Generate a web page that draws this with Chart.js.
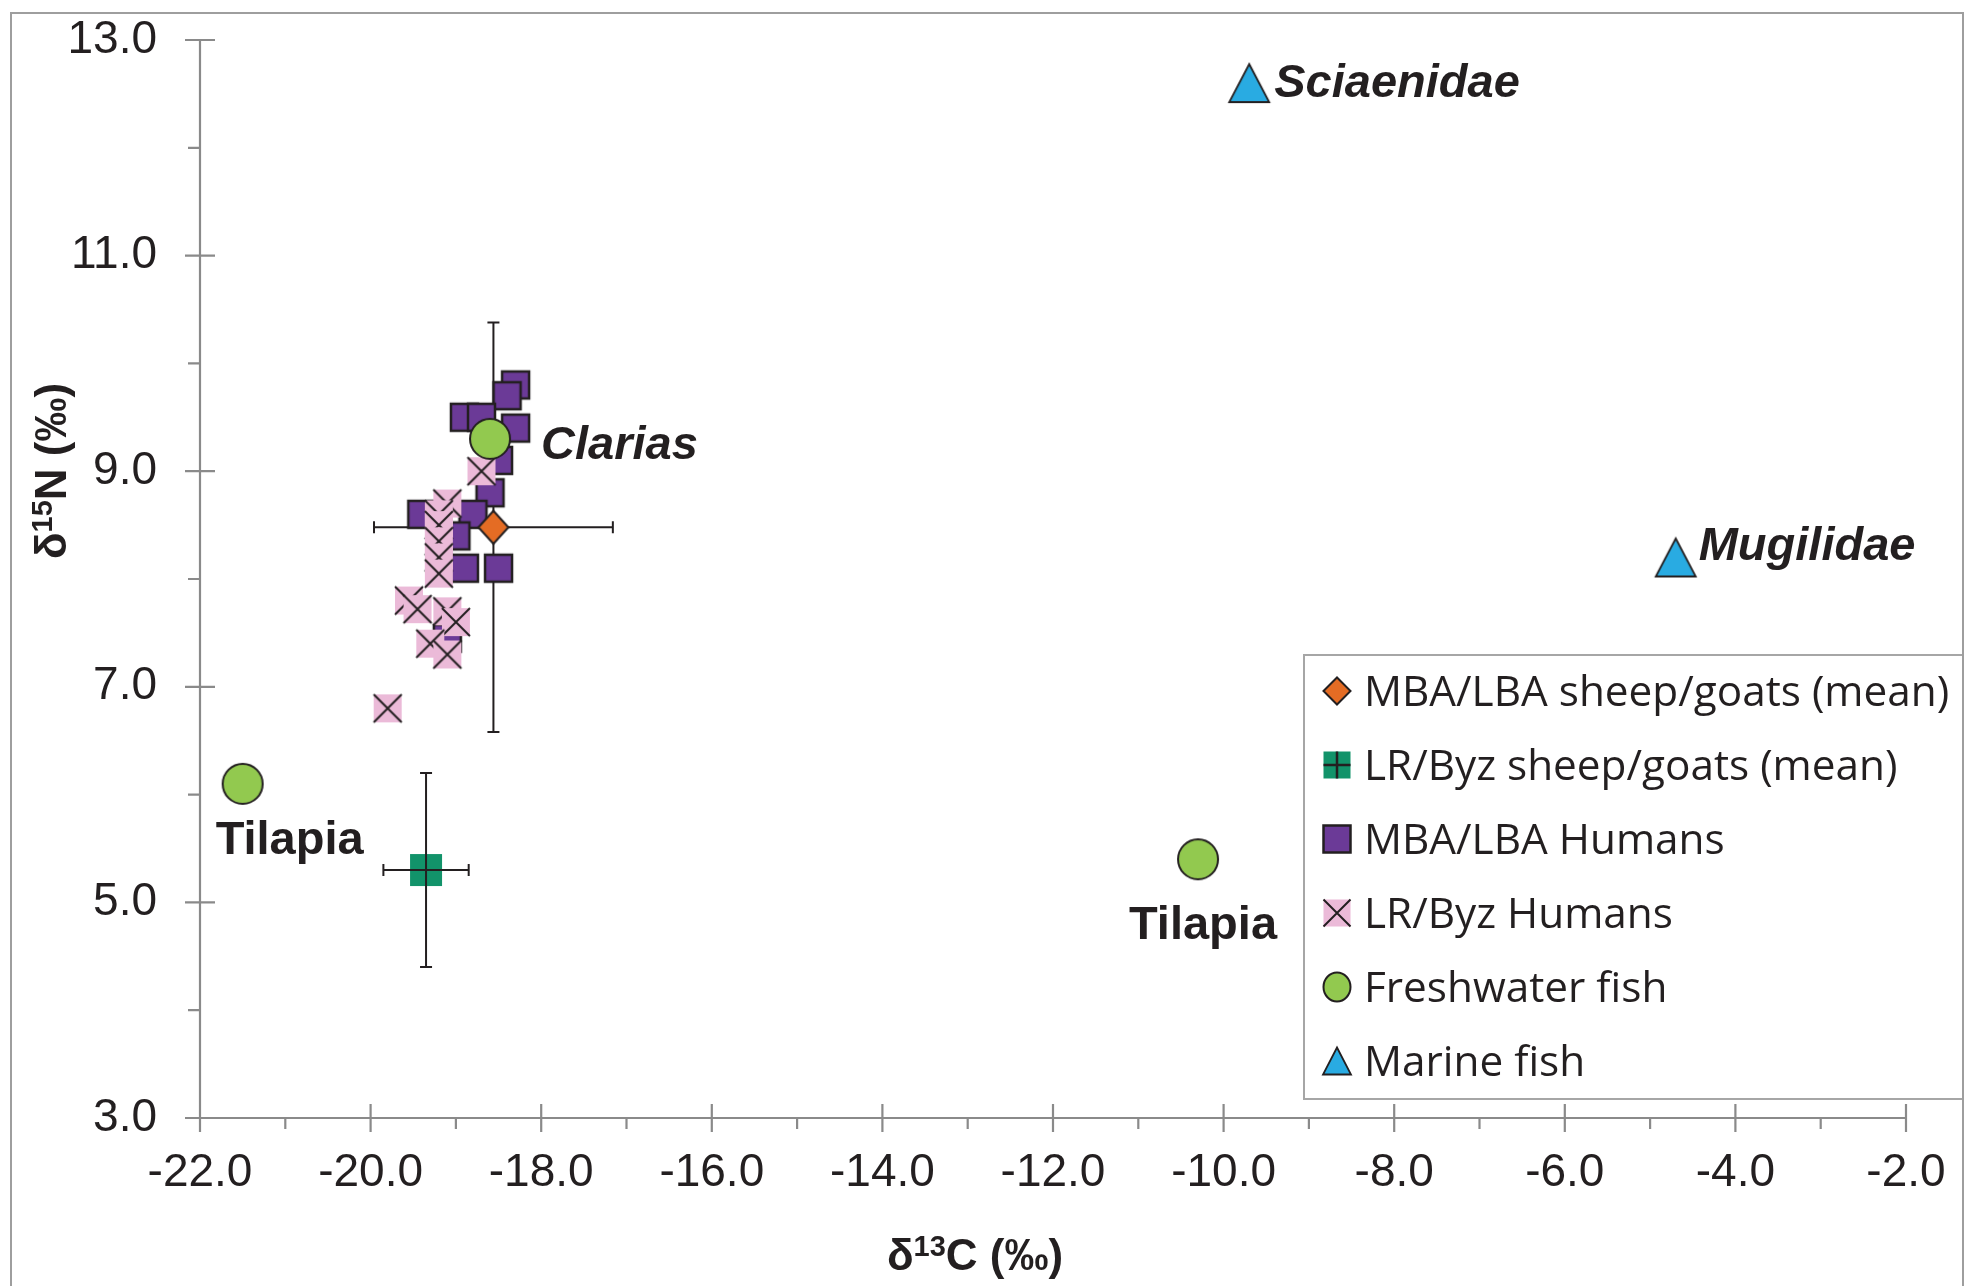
<!DOCTYPE html>
<html>
<head>
<meta charset="utf-8">
<script src="https://cdn.jsdelivr.net/npm/chart.js@4.4.0/dist/chart.umd.min.js"></script>
<style>
  html, body { margin: 0; padding: 0; background: #ffffff; }
  canvas { display: block; }
</style>
</head>
<body>
<canvas id="chart" width="1966" height="1286"></canvas>
<script>
// ================= DATA =================
const seriesNames = [
  'MBA/LBA sheep/goats (mean)',
  'LR/Byz sheep/goats (mean)',
  'MBA/LBA Humans',
  'LR/Byz Humans',
  'Freshwater fish',
  'Marine fish'
];

const xMin = -22, xMax = -2, xStep = 2;
const yMin = 3, yMax = 13, yStep = 2;
const xTitleParts = [['δ', false], ['13', true], ['C (‰)', false]];
const yTitleParts = [['δ', false], ['15', true], ['N (‰)', false]];

const sheepMbaX = [-18.56];
const sheepMbaY = [8.48];
const sheepMbaXErr = [1.4];
const sheepMbaYErr = [1.9];

const sheepLrX = [-19.35];
const sheepLrY = [5.3];
const sheepLrXErr = [0.5];
const sheepLrYErr = [0.9];

const humansMbaX = [-18.3, -18.4, -18.9, -18.7, -18.3, -18.5, -18.6, -19.4, -18.8, -19.0, -18.9, -18.5, -19.1];
const humansMbaY = [9.8, 9.7, 9.5, 9.5, 9.4, 9.1, 8.8, 8.6, 8.6, 8.4, 8.1, 8.1, 7.45];

const humansLrX = [-18.7, -19.1, -19.2, -19.2, -19.2, -19.2, -19.2, -19.55, -19.45, -19.1, -19.0, -19.3, -19.1, -19.8];
const humansLrY = [9.0, 8.7, 8.6, 8.5, 8.35, 8.2, 8.05, 7.8, 7.72, 7.7, 7.6, 7.4, 7.3, 6.8];

const freshX = [-18.6, -21.5, -10.3];
const freshY = [9.3, 6.1, 5.4];
const freshLabels = ['Clarias', 'Tilapia', 'Tilapia'];

const marineX = [-9.7, -4.7];
const marineY = [12.6, 8.2];
const marineLabels = ['Sciaenidae', 'Mugilidae'];

// ================= STYLES =================
const INK = '#231F20';
const AXIS = '#8A8A8A';
const COLORS = {
  orange: '#E46C24', teal: '#12936A', purple: '#6B3A97',
  pink: '#EBBAD8', green: '#92C94F', blue: '#29ABE2'
};

function drawMarker(ctx, type, cx, cy, w, h) {
  ctx.save();
  ctx.lineJoin = 'miter';
  ctx.strokeStyle = INK;
  if (type === 'diamond') {
    ctx.beginPath();
    ctx.moveTo(cx - w / 2, cy); ctx.lineTo(cx, cy - h / 2);
    ctx.lineTo(cx + w / 2, cy); ctx.lineTo(cx, cy + h / 2); ctx.closePath();
    ctx.fillStyle = COLORS.orange; ctx.fill();
    ctx.lineWidth = 2; ctx.stroke();
  } else if (type === 'teal' || type === 'tealPlus') {
    ctx.fillStyle = COLORS.teal;
    ctx.fillRect(cx - w / 2, cy - h / 2, w, h);
    if (type === 'tealPlus') {
      ctx.lineWidth = 2.5;
      ctx.beginPath();
      ctx.moveTo(cx - w / 2, cy); ctx.lineTo(cx + w / 2, cy);
      ctx.moveTo(cx, cy - h / 2); ctx.lineTo(cx, cy + h / 2);
      ctx.stroke();
    }
  } else if (type === 'purple') {
    ctx.fillStyle = COLORS.purple;
    ctx.fillRect(cx - w / 2, cy - h / 2, w, h);
    ctx.lineWidth = 2.5;
    ctx.strokeRect(cx - w / 2, cy - h / 2, w, h);
  } else if (type === 'pinkX') {
    ctx.fillStyle = COLORS.pink;
    ctx.fillRect(cx - w / 2, cy - h / 2, w, h);
    ctx.lineWidth = 2;
    ctx.beginPath();
    ctx.moveTo(cx - w / 2, cy - h / 2); ctx.lineTo(cx + w / 2, cy + h / 2);
    ctx.moveTo(cx + w / 2, cy - h / 2); ctx.lineTo(cx - w / 2, cy + h / 2);
    ctx.stroke();
  } else if (type === 'circle') {
    ctx.beginPath();
    ctx.ellipse(cx, cy, w / 2, h / 2, 0, 0, Math.PI * 2);
    ctx.fillStyle = COLORS.green; ctx.fill();
    ctx.lineWidth = 2; ctx.stroke();
  } else if (type === 'triangle') {
    ctx.beginPath();
    ctx.moveTo(cx, cy - h / 2); ctx.lineTo(cx + w / 2, cy + h / 2);
    ctx.lineTo(cx - w / 2, cy + h / 2); ctx.closePath();
    ctx.fillStyle = COLORS.blue; ctx.fill();
    ctx.lineWidth = 1.8; ctx.stroke();
  }
  ctx.restore();
}

function markerCanvas(type, w, h) {
  const pad = 3;
  const c = document.createElement('canvas');
  c.width = Math.ceil(w + 2 * pad);
  c.height = Math.ceil(h + 2 * pad);
  drawMarker(c.getContext('2d'), type, c.width / 2, c.height / 2, w, h);
  return c;
}

const pts = (xs, ys) => xs.map((x, i) => ({ x: x, y: ys[i] }));

// order: lower number drawn on top
const datasets = [
  { label: seriesNames[0], data: pts(sheepMbaX, sheepMbaY), pointStyle: markerCanvas('diamond', 30, 33), order: 4 },
  { label: seriesNames[1], data: pts(sheepLrX, sheepLrY), pointStyle: markerCanvas('teal', 32, 32), order: 6 },
  { label: seriesNames[2], data: pts(humansMbaX, humansMbaY), pointStyle: markerCanvas('purple', 27, 27), order: 5 },
  { label: seriesNames[3], data: pts(humansLrX, humansLrY), pointStyle: markerCanvas('pinkX', 28, 28), order: 3 },
  { label: seriesNames[4], data: pts(freshX, freshY), pointStyle: markerCanvas('circle', 40, 40), order: 2 },
  { label: seriesNames[5], data: pts(marineX, marineY), pointStyle: markerCanvas('triangle', 40, 38), order: 1 }
].map(d => Object.assign(d, { pointRadius: 20, showLine: false }));

const legendTypes = ['diamond', 'tealPlus', 'purple', 'pinkX', 'circle', 'triangle'];
const legendSizes = [[27, 27], [27, 27], [27, 27], [27, 27], [27, 29], [28, 27]];

// label placement relative to the point (pixels)
const freshLabelStyle = [
  { dx: 51, dy: 3, align: 'left', italic: true },
  { dx: 47, dy: 53, align: 'center', italic: false },
  { dx: 5, dy: 63, align: 'center', italic: false }
];
const marineLabelStyle = [
  { dx: 25, dy: -3, align: 'left', italic: true },
  { dx: 23, dy: -14, align: 'left', italic: true }
];

function drawErrorBars(chart, xs, ys, xe, ye) {
  const ctx = chart.ctx, sx = chart.scales.x, sy = chart.scales.y;
  const cap = 6;
  ctx.save();
  ctx.strokeStyle = INK; ctx.lineWidth = 2;
  xs.forEach((xv, i) => {
    const px = sx.getPixelForValue(xv), py = sy.getPixelForValue(ys[i]);
    const x1 = sx.getPixelForValue(xv - xe[i]), x2 = sx.getPixelForValue(xv + xe[i]);
    const y1 = sy.getPixelForValue(ys[i] + ye[i]), y2 = sy.getPixelForValue(ys[i] - ye[i]);
    ctx.beginPath();
    ctx.moveTo(x1, py); ctx.lineTo(x2, py);
    ctx.moveTo(x1, py - cap); ctx.lineTo(x1, py + cap);
    ctx.moveTo(x2, py - cap); ctx.lineTo(x2, py + cap);
    ctx.moveTo(px, y1); ctx.lineTo(px, y2);
    ctx.moveTo(px - cap, y1); ctx.lineTo(px + cap, y1);
    ctx.moveTo(px - cap, y2); ctx.lineTo(px + cap, y2);
    ctx.stroke();
  });
  ctx.restore();
}

function drawRichText(ctx, parts, cx, cy, rotate) {
  const base = 'bold 44px "Liberation Sans", Arial, sans-serif';
  const sup = 'bold 29px "Liberation Sans", Arial, sans-serif';
  let total = 0;
  const widths = parts.map(p => { ctx.font = p[1] ? sup : base; const w = ctx.measureText(p[0]).width; total += w; return w; });
  ctx.save();
  ctx.translate(cx, cy);
  if (rotate) ctx.rotate(-Math.PI / 2);
  ctx.fillStyle = INK;
  ctx.textBaseline = 'alphabetic';
  ctx.textAlign = 'left';
  let x = -total / 2;
  const baseline = 0.716 * 44 / 2;
  parts.forEach((p, i) => {
    ctx.font = p[1] ? sup : base;
    ctx.fillText(p[0], x, p[1] ? baseline - 14 : baseline);
    x += widths[i];
  });
  ctx.restore();
}

const decor = {
  id: 'decor',
  beforeDraw(chart) {
    const ctx = chart.ctx;
    ctx.save(); ctx.fillStyle = '#ffffff'; ctx.fillRect(0, 0, chart.width, chart.height); ctx.restore();
  },
  beforeDatasetsDraw(chart) {
    const ctx = chart.ctx, sx = chart.scales.x, sy = chart.scales.y;
    const x0 = sx.getPixelForValue(xMin), y0 = sy.getPixelForValue(yMin);
    ctx.save();
    ctx.strokeStyle = AXIS; ctx.lineWidth = 2.2; ctx.lineCap = 'butt';
    ctx.beginPath();
    ctx.moveTo(x0, sy.getPixelForValue(yMax)); ctx.lineTo(x0, y0);
    ctx.moveTo(x0 - 12, y0); ctx.lineTo(sx.getPixelForValue(xMax), y0);
    for (let v = xMin; v <= xMax + 1e-9; v += xStep / 2) {
      const p = sx.getPixelForValue(v);
      const major = Math.abs(((v - xMin) / xStep) - Math.round((v - xMin) / xStep)) < 1e-6;
      if (major) { ctx.moveTo(p, y0 - 14); ctx.lineTo(p, y0 + 14); }
      else { ctx.moveTo(p, y0); ctx.lineTo(p, y0 + 11); }
    }
    for (let v = yMin; v <= yMax + 1e-9; v += yStep / 2) {
      const p = sy.getPixelForValue(v);
      const major = Math.abs(((v - yMin) / yStep) - Math.round((v - yMin) / yStep)) < 1e-6;
      if (major) { ctx.moveTo(x0 - 15, p); ctx.lineTo(x0 + 15, p); }
      else { ctx.moveTo(x0 - 12, p); ctx.lineTo(x0, p); }
    }
    ctx.stroke();
    ctx.restore();
    drawErrorBars(chart, sheepMbaX, sheepMbaY, sheepMbaXErr, sheepMbaYErr);
  },
  afterDatasetsDraw(chart) {
    drawErrorBars(chart, sheepLrX, sheepLrY, sheepLrXErr, sheepLrYErr);
    const ctx = chart.ctx, sx = chart.scales.x, sy = chart.scales.y;
    const put = (xs, ys, labels, styles) => {
      labels.forEach((t, i) => {
        const st = styles[i];
        const px = sx.getPixelForValue(xs[i]) + st.dx;
        const py = sy.getPixelForValue(ys[i]) + st.dy;
        ctx.save();
        ctx.font = (st.italic ? 'italic ' : '') + 'bold 47px "Liberation Sans", Arial, sans-serif';
        ctx.fillStyle = INK;
        ctx.textAlign = st.align;
        ctx.textBaseline = 'alphabetic';
        ctx.fillText(t, px, py + 0.716 * 47 / 2);
        ctx.restore();
      });
    };
    put(freshX, freshY, freshLabels, freshLabelStyle);
    put(marineX, marineY, marineLabels, marineLabelStyle);
  },
  afterDraw(chart) {
    const ctx = chart.ctx;
    const L = { left: 1304, top: 655, right: 1963, bottom: 1099, firstY: 691, step: 74, markerX: 1337, textX: 1364 };
    ctx.save();
    ctx.fillStyle = '#ffffff';
    ctx.fillRect(L.left, L.top, L.right - L.left, L.bottom - L.top);
    ctx.strokeStyle = '#A6A6A6'; ctx.lineWidth = 2;
    ctx.strokeRect(L.left, L.top, L.right - L.left, L.bottom - L.top);
    ctx.font = '42px "Open Sans", sans-serif';
    const w42 = ctx.measureText(seriesNames[0]).width;
    const fs = Math.round(42 * 585 / w42 * 10) / 10;
    ctx.font = fs + 'px "Open Sans", sans-serif';
    ctx.fillStyle = INK; ctx.textBaseline = 'alphabetic'; ctx.textAlign = 'left';
    seriesNames.forEach((name, i) => {
      const cy = L.firstY + i * L.step;
      drawMarker(ctx, legendTypes[i], L.markerX, cy, legendSizes[i][0], legendSizes[i][1]);
      ctx.fillText(name, L.textX, cy + 15);
    });
    ctx.strokeStyle = '#9E9E9E'; ctx.lineWidth = 2;
    ctx.strokeRect(11, 13, 1952, 1300);
    ctx.restore();
    drawRichText(ctx, xTitleParts, 975, 1254, false);
    drawRichText(ctx, yTitleParts, 50, 471, true);
  }
};

const zeroPad = s => { s.paddingTop = 0; s.paddingBottom = 0; s.paddingLeft = 0; s.paddingRight = 0; };

new Chart(document.getElementById('chart').getContext('2d'), {
  type: 'scatter',
  data: { datasets: datasets },
  options: {
    responsive: false,
    maintainAspectRatio: false,
    animation: false,
    devicePixelRatio: 1,
    events: [],
    layout: { padding: { top: 40, right: 60, left: 0, bottom: 0 } },
    plugins: { legend: { display: false }, tooltip: { enabled: false }, title: { display: false } },
    scales: {
      x: {
        type: 'linear', min: xMin, max: xMax,
        ticks: { stepSize: xStep, callback: v => Number(v).toFixed(1), font: { family: '"Liberation Sans", Arial, sans-serif', size: 46 }, color: INK, padding: 28, maxRotation: 0, autoSkip: false },
        grid: { display: false, drawTicks: false },
        border: { display: false },
        afterFit: s => { s.height = 168; zeroPad(s); }
      },
      y: {
        type: 'linear', min: yMin, max: yMax,
        ticks: { stepSize: yStep, callback: v => Number(v).toFixed(1), font: { family: '"Liberation Sans", Arial, sans-serif', size: 46 }, color: INK, padding: 43, autoSkip: false },
        grid: { display: false, drawTicks: false },
        border: { display: false },
        afterFit: s => { s.width = 200; zeroPad(s); }
      }
    }
  },
  plugins: [decor]
});
</script>
</body>
</html>
